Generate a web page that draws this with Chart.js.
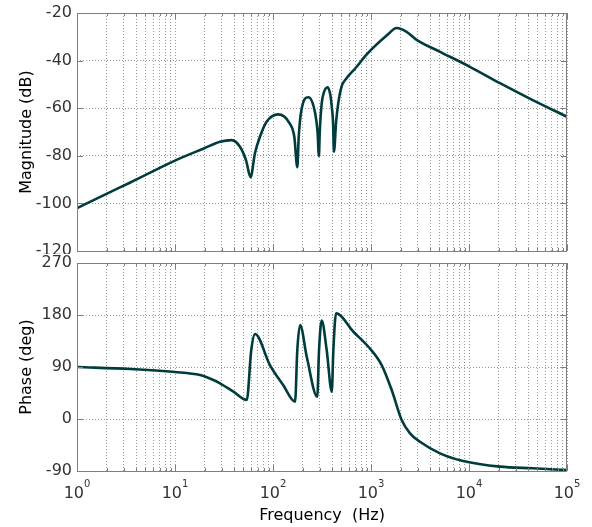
<!DOCTYPE html>
<html>
<head>
<meta charset="utf-8">
<script src="https://cdn.jsdelivr.net/npm/chart.js@4.4.1/dist/chart.umd.min.js"></script>
<style>
  body { margin: 0; background: #fff; }
  #wrap { position: relative; width: 592px; height: 527px; overflow: hidden; }
  #mag-box { position: absolute; left: 0; top: 0; width: 592px; height: 262px; }
  #phase-box { position: absolute; left: 0; top: 244px; width: 592px; height: 283px; }
</style>
</head>
<body>
<div id="wrap">
  <div id="mag-box"><canvas id="mag-chart"></canvas></div>
  <div id="phase-box"><canvas id="phase-chart"></canvas></div>
</div>
<script>
// frequency axis: decades get a label, the 2..9 steps only a grid line
const decades = [1, 10, 100, 1000, 10000, 100000];
const decadeExps = ["0", "1", "2", "3", "4", "5"];
const minorSteps = [2, 3, 4, 5, 6, 7, 8, 9];

const magTicks = [-120, -100, -80, -60, -40, -20];
const phaseTicks = [-90, 0, 90, 180, 270];

// magnitude curve
const magFreq = [1, 2, 3.5, 10, 20, 28.8, 38, 46, 53, 59, 65.5, 73.6, 86, 113, 148, 165, 177, 183, 195, 230, 269, 285, 294, 300, 314, 330, 361, 385, 398, 410, 419, 440, 463, 500, 560, 700, 900, 1445, 1830, 2310, 2920, 5000, 10000, 20700, 44700, 100000];
const magDb = [-102, -96, -91.2, -82, -76.8, -74.1, -73.4, -76.2, -81.8, -89, -78.8, -72, -65.7, -62.6, -66.4, -72, -84.8, -72, -60.8, -55.4, -62, -70, -80.1, -70, -58, -53.5, -51.2, -54.5, -59.4, -66, -78.3, -66, -58, -51, -47.5, -43, -37.5, -29.5, -26.3, -27.9, -31.3, -36.2, -42.4, -49.5, -56.6, -63.6];

// phase curve
const phaseFreq = [1, 3.5, 10, 18, 22.7, 28.8, 39.4, 54, 60, 65.5, 93, 127, 168, 177, 189, 221, 283, 295, 314, 353, 398, 413, 440, 661, 940, 1285, 1626, 2056, 2500, 3162, 5058, 8710, 20700, 44700, 100000];
const phaseDeg = [90, 86.5, 81.3, 76, 70, 61.8, 47.3, 32.9, 119.4, 147.1, 93.4, 58.8, 30, 119.4, 162.7, 107.8, 38.6, 119.4, 170.2, 119.4, 47.3, 119.4, 183, 151, 125, 93.4, 50.2, -1.7, -24.8, -39.3, -59.4, -72.7, -82.5, -85.3, -88.3];

const gridFreqs = [];
decades.forEach((d, i) => {
  gridFreqs.push(d);
  if (i < decades.length - 1) minorSteps.forEach(s => gridFreqs.push(d * s));
});

const FONT = '"DejaVu Sans", sans-serif';
const LINE_COLOR = "#003c3c";
const GRID_COLOR = "#9a9a9a";
const BOX_COLOR = "#7f7f7f";

// white sheet behind the lower axes, it hides the bottom of the "-120" label
const whiteSheet = {
  id: "whiteSheet",
  beforeDraw(chart, args, opts) {
    const { ctx, width, height } = chart;
    ctx.save();
    ctx.fillStyle = "#fff";
    ctx.fillRect(0, opts.from || 0, width, height);
    ctx.restore();
  }
};

// MATLAB style box with ticks pointing inwards
const frameBox = {
  id: "frameBox",
  afterDraw(chart) {
    const { ctx, chartArea: a, scales } = chart;
    ctx.save();
    ctx.strokeStyle = BOX_COLOR;
    ctx.lineWidth = 1;
    ctx.beginPath();
    scales.x.ticks.forEach(t => {
      const px = Math.round(scales.x.getPixelForValue(t.value)) + 0.5;
      const len = decades.includes(t.value) ? 6 : 3;
      ctx.moveTo(px, a.top); ctx.lineTo(px, a.top + len);
      ctx.moveTo(px, a.bottom); ctx.lineTo(px, a.bottom - len);
    });
    scales.y.ticks.forEach(t => {
      const py = Math.round(scales.y.getPixelForValue(t.value)) + 0.5;
      ctx.moveTo(a.left, py); ctx.lineTo(a.left + 6, py);
      ctx.moveTo(a.right, py); ctx.lineTo(a.right - 6, py);
    });
    ctx.stroke();
    ctx.strokeRect(Math.round(a.left) + 0.5, Math.round(a.top) + 0.5,
      Math.round(a.right - a.left) - 1, Math.round(a.bottom - a.top));
    ctx.restore();
  }
};

// "10" with a raised exponent under each decade
const decadeLabels = {
  id: "decadeLabels",
  afterDraw(chart) {
    const { ctx, chartArea: a, scales: { x } } = chart;
    ctx.save();
    ctx.fillStyle = "#333";
    ctx.textBaseline = "alphabetic";
    ctx.textAlign = "left";
    decades.forEach((v, i) => {
      ctx.font = "16px " + FONT;
      const bw = ctx.measureText("10").width;
      ctx.font = "10px " + FONT;
      const ew = ctx.measureText(decadeExps[i]).width;
      const left = x.getPixelForValue(v) - (bw + ew) / 2;
      ctx.font = "16px " + FONT;
      ctx.fillText("10", left, a.bottom + 27);
      ctx.font = "10px " + FONT;
      ctx.fillText(decadeExps[i], left + bw, a.bottom + 16);
    });
    ctx.restore();
  }
};

function xScale(showTitle) {
  return {
    type: "logarithmic",
    min: 1,
    max: 100000,
    afterBuildTicks: (scale) => { scale.ticks = gridFreqs.map(v => ({ value: v })); },
    afterFit: (scale) => { scale.height = showTitle ? 56 : 0; scale.paddingLeft = 0; scale.paddingRight = 0; },
    ticks: { display: false },
    grid: { color: GRID_COLOR, drawTicks: false, lineWidth: 1 },
    border: { display: false, dash: [1, 2] },
    title: {
      display: showTitle,
      text: "Frequency  (Hz)",
      color: "#000",
      font: { family: FONT, size: 16 },
      padding: { top: 0, bottom: 2 }
    }
  };
}

function yScale(min, max, step, ticks, label) {
  return {
    type: "linear",
    min: min,
    max: max,
    afterBuildTicks: (scale) => { scale.ticks = ticks.map(v => ({ value: v })); },
    afterFit: (scale) => { scale.width = 77; scale.paddingTop = 0; scale.paddingBottom = 0; },
    ticks: { color: "#333", font: { family: FONT, size: 16 }, padding: 5 },
    grid: { color: GRID_COLOR, drawTicks: false, lineWidth: 1 },
    border: { display: false, dash: [1, 2] },
    title: {
      display: true,
      text: label,
      color: "#000",
      font: { family: FONT, size: 16 },
      padding: { top: 17, bottom: 0 }
    }
  };
}

function lineData(xs, ys) {
  return {
    datasets: [{
      data: xs.map((f, i) => ({ x: f, y: ys[i] })),
      borderColor: LINE_COLOR,
      borderWidth: 2.6,
      pointRadius: 0,
      fill: false,
      cubicInterpolationMode: "monotone"
    }]
  };
}

const common = {
  responsive: true,
  maintainAspectRatio: false,
  animation: false,
  events: [],
  plugins: { legend: { display: false }, tooltip: { enabled: false } }
};

new Chart(document.getElementById("mag-chart"), {
  type: "line",
  data: lineData(magFreq, magDb),
  options: {
    ...common,
    layout: { padding: { top: 13, right: 25, bottom: 11, left: 0 } },
    scales: { x: xScale(false), y: yScale(-120, -20, 20, magTicks, "Magnitude (dB)") }
  },
  plugins: [frameBox]
});

new Chart(document.getElementById("phase-chart"), {
  type: "line",
  data: lineData(phaseFreq, phaseDeg),
  options: {
    ...common,
    plugins: { ...common.plugins, whiteSheet: { from: 10 } },
    layout: { padding: { top: 19, right: 25, bottom: 0, left: 0 } },
    scales: { x: xScale(true), y: yScale(-90, 270, 90, phaseTicks, "Phase (deg)") }
  },
  plugins: [whiteSheet, frameBox, decadeLabels]
});
</script>
</body>
</html>
